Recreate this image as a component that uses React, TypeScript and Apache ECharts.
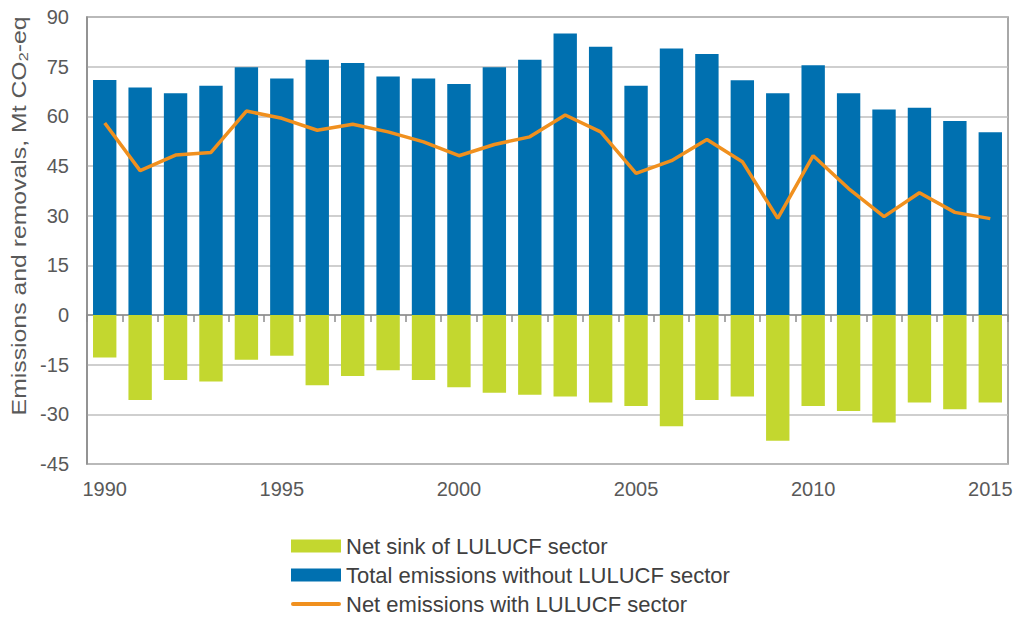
import React, { useEffect, useRef } from "react";
import * as echarts from "echarts";

const years = ["1990","1991","1992","1993","1994","1995","1996","1997","1998","1999","2000","2001","2002","2003","2004","2005","2006","2007","2008","2009","2010","2011","2012","2013","2014","2015"];
const totalEmissions = [71.0,68.7,67.0,69.2,74.8,71.4,77.1,76.1,72.0,71.4,69.8,74.8,77.1,85.0,81.0,69.2,80.5,78.8,70.9,67.0,75.4,67.0,62.1,62.6,58.6,55.2];
const netSink = [-12.8,-25.7,-19.6,-20.1,-13.5,-12.3,-21.2,-18.4,-16.7,-19.6,-21.8,-23.5,-24.1,-24.6,-26.4,-27.5,-33.6,-25.7,-24.6,-38.0,-27.5,-29.0,-32.5,-26.4,-28.5,-26.4];
const netEmissions = [58.0,43.6,48.3,49.1,61.6,59.4,55.8,57.6,55.3,52.3,48.1,51.5,53.8,60.4,55.3,42.8,46.6,53.0,46.3,29.2,48.1,38.2,29.7,36.9,31.0,29.1];
const yTicks = { min: -45, max: 90, interval: 15 };
const seriesNames = ["Net sink of LULUCF sector", "Total emissions without LULUCF sector", "Net emissions with LULUCF sector"];
const yAxisTitle = "Emissions and removals, Mt CO{sub|2}-eq";

const FONT = "Liberation Sans, Arial, sans-serif";
const TXT = "#595959";
const LEG = "#404040";

export default function App() {
  const ref = useRef<HTMLDivElement>(null);
  useEffect(() => {
    const chart = echarts.init(ref.current!, null, { renderer: "svg" });
    const legendBase = {
      orient: "horizontal",
      left: 286,
      itemWidth: 50,
      itemHeight: 13,
      textStyle: { fontSize: 22, color: LEG, fontFamily: FONT },
    };
    chart.setOption({
      animation: false,
      textStyle: { fontFamily: FONT },
      grid: { left: 87, right: 16, top: 17, bottom: 154, show: true, borderColor: "#8c8c8c", borderWidth: 1.5 },
      legend: [
        { ...legendBase, top: 530, data: [{ name: seriesNames[0], icon: "rect" }] },
        { ...legendBase, top: 559, data: [{ name: seriesNames[1], icon: "rect" }] },
        {
          ...legendBase,
          top: 588,
          itemHeight: 4,
          data: [{ name: seriesNames[2], icon: "path://M2,0 L48,0 A2,2 0 0 1 48,4 L2,4 A2,2 0 0 1 2,0 Z" }],
        },
      ],
      graphic: [
        {
          type: "text",
          x: 19,
          y: 216,
          rotation: Math.PI / 2,
          scaleX: 1.24,
          style: {
            text: yAxisTitle,
            fontSize: 20,
            fontFamily: FONT,
            fill: TXT,
            align: "center",
            verticalAlign: "middle",
            rich: { sub: { fontSize: 13, fill: TXT, fontFamily: FONT, padding: [9, 0, 0, 0] } },
          },
        },
      ],
      xAxis: {
        type: "category",
        data: years,
        axisLine: { lineStyle: { color: "#8c8c8c", width: 1.5 } },
        axisTick: { show: true, interval: 0, length: 7, lineStyle: { color: "#8c8c8c", width: 1.5 } },
        axisLabel: { interval: 4, fontSize: 20, color: TXT, margin: 15 },
      },
      yAxis: {
        type: "value",
        min: yTicks.min,
        max: yTicks.max,
        interval: yTicks.interval,
        axisLine: { show: true, lineStyle: { color: "#8c8c8c", width: 1.5 } },
        axisTick: { show: false },
        axisLabel: { fontSize: 20, color: TXT, margin: 18 },
        splitLine: { lineStyle: { color: "#bfbfbf", width: 1.5 } },
      },
      series: [
        {
          name: seriesNames[0],
          type: "bar",
          stack: "s",
          data: netSink,
          barWidth: "66%",
          itemStyle: { color: "#C3D72F" },
        },
        {
          name: seriesNames[1],
          type: "bar",
          stack: "s",
          data: totalEmissions,
          barWidth: "66%",
          itemStyle: { color: "#0070B0" },
        },
        {
          name: seriesNames[2],
          type: "line",
          data: netEmissions,
          symbol: "none",
          lineStyle: { color: "#F0901E", width: 3.5 },
          itemStyle: { color: "#F0901E" },
        },
      ],
    });
    return () => chart.dispose();
  }, []);
  return <div ref={ref} style={{ width: 1024, height: 618, position: "absolute", left: 0, top: 0 }} />;
}
